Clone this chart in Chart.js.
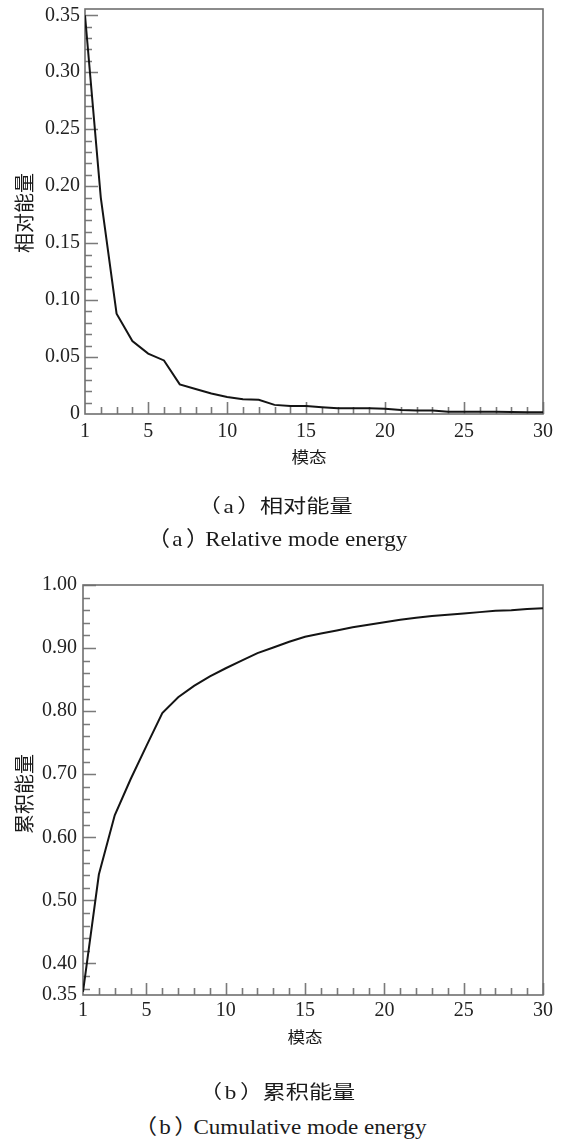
<!DOCTYPE html>
<html>
<head>
<meta charset="utf-8">
<script src="https://cdn.jsdelivr.net/npm/chart.js@4/dist/chart.umd.min.js"></script>
<style>
  html, body { margin: 0; padding: 0; background: #fff; }
  body { width: 566px; height: 1143px; position: relative; overflow: hidden; }
  .box { position: absolute; left: 0; width: 566px; }
  .t { position: absolute; white-space: nowrap; color: #1a1a1a; transform-origin: center center; line-height: 1; }
  .cjk { font-family: "Noto Sans CJK SC", "Noto Sans", sans-serif; }
  .ser { font-family: "Liberation Serif", "Noto Sans CJK SC", serif; }
  .p { font-family: "Noto Sans CJK SC", sans-serif; font-feature-settings: "halt"; }
  .l { font-family: "Liberation Serif", serif; margin: 0 3px 0 2px; }
</style>
</head>
<body>
<div class="box" style="top:0;height:450px;"><canvas id="c1" width="566" height="450"></canvas></div>
<div class="box" style="top:570px;height:470px;"><canvas id="c2" width="566" height="470"></canvas></div>

<div class="t cjk" style="left:24px;top:213px;font-size:20px;transform:translate(-50%,-50%) rotate(-90deg);">相对能量</div>
<div class="t cjk" style="left:309px;top:456px;font-size:16px;transform:translate(-50%,-50%) scaleX(1.1);">模态</div>
<div class="t cjk" style="left:281px;top:505px;font-size:19px;transform:translate(-50%,-50%) scaleX(1.22);"><span class="p">（</span><span class="l">a</span><span class="p" style="margin-right:9px;">）</span>相对能量</div>
<div class="t ser" style="left:283px;top:538px;font-size:21px;transform:translate(-50%,-50%) scaleX(1.1);"><span class="p">（</span><span class="l">a</span><span class="p" style="margin-right:7px;">）</span>Relative mode energy</div>

<div class="t cjk" style="left:24px;top:794px;font-size:20px;transform:translate(-50%,-50%) rotate(-90deg);">累积能量</div>
<div class="t cjk" style="left:305px;top:1036px;font-size:16px;transform:translate(-50%,-50%) scaleX(1.1);">模态</div>
<div class="t cjk" style="left:283px;top:1091px;font-size:19px;transform:translate(-50%,-50%) scaleX(1.22);"><span class="p">（</span><span class="l">b</span><span class="p" style="margin-right:9px;">）</span>累积能量</div>
<div class="t ser" style="left:286px;top:1126px;font-size:21px;transform:translate(-50%,-50%) scaleX(1.1);"><span class="p">（</span><span class="l">b</span><span class="p" style="margin-right:7px;">）</span>Cumulative mode energy</div>

<script>
// ---------------- DATA ----------------
const modes = [1,2,3,4,5,6,7,8,9,10,11,12,13,14,15,16,17,18,19,20,21,22,23,24,25,26,27,28,29,30];
const relativeEnergy = [0.350,0.190,0.088,0.064,0.053,0.047,0.026,0.022,0.018,0.015,0.013,0.0125,0.008,0.007,0.007,0.006,0.005,0.005,0.005,0.0045,0.0035,0.003,0.003,0.002,0.002,0.002,0.002,0.0018,0.0015,0.0015];
const cumulativeEnergy = [0.355,0.541,0.635,0.692,0.745,0.797,0.822,0.840,0.855,0.868,0.880,0.892,0.901,0.910,0.918,0.923,0.928,0.933,0.937,0.941,0.945,0.948,0.951,0.953,0.955,0.957,0.959,0.960,0.962,0.963];
const xTickValues = [1,5,10,15,20,25,30];
const yTicksRelative = [0,0.05,0.10,0.15,0.20,0.25,0.30,0.35];
const yTicksCumulative = [0.35,0.40,0.50,0.60,0.70,0.80,0.90,1.00];
const yMinorRelative = [0.01,0.02,0.03,0.04,0.06,0.07,0.08,0.09,0.11,0.12,0.13,0.14,0.16,0.17,0.18,0.19,0.21,0.22,0.23,0.24,0.26,0.27,0.28,0.29,0.31,0.32,0.33,0.34];
const yMinorCumulative = [0.36,0.38,0.42,0.44,0.46,0.48,0.52,0.54,0.56,0.58,0.62,0.64,0.66,0.68,0.72,0.74,0.76,0.78,0.82,0.84,0.86,0.88,0.92,0.94,0.96,0.98];
const xMinor = [2,3,4,6,7,8,9,11,12,13,14,16,17,18,19,21,22,23,24,26,27,28,29];

// ---------------- STYLE HELPERS ----------------
const TICK_FONT = { family: '"Liberation Serif", "Times New Roman", serif', size: 20 };
const FRAME = '#6f6f6f';
const TICKCOL = '#7a7a7a';

const framePlugin = {
  id: 'frameTicks',
  beforeDatasetsDraw(chart, args, opts) {
    const { ctx, chartArea: a, scales } = chart;
    const xs = scales.x, ys = scales.y;
    ctx.save();
    ctx.strokeStyle = TICKCOL;
    ctx.lineWidth = 1.6;
    ctx.beginPath();
    xTickValues.forEach(v => {
      if (v === 1) return;
      const px = Math.round(xs.getPixelForValue(v)) + 0.5;
      ctx.moveTo(px, a.bottom); ctx.lineTo(px, a.bottom - 12);
    });
    xMinor.forEach(v => {
      const px = Math.round(xs.getPixelForValue(v)) + 0.5;
      ctx.moveTo(px, a.bottom); ctx.lineTo(px, a.bottom - 7);
    });
    opts.yMajor.forEach(v => {
      if (v === ys.min) return;
      const py = Math.round(ys.getPixelForValue(v)) + 0.5;
      ctx.moveTo(a.left, py); ctx.lineTo(a.left + 13, py);
    });
    opts.yMinor.forEach(v => {
      const py = Math.round(ys.getPixelForValue(v)) + 0.5;
      ctx.moveTo(a.left, py); ctx.lineTo(a.left + 7, py);
    });
    ctx.stroke();
    ctx.strokeStyle = FRAME;
    ctx.lineWidth = 1.6;
    ctx.strokeRect(a.left, a.top, a.right - a.left, a.bottom - a.top);
    ctx.restore();
  }
};

function makeChart(id, values, yMin, yMax, yMajor, yMinor, pad, xPad, yPad, fmt) {
  return new Chart(document.getElementById(id), {
    type: 'line',
    data: {
      datasets: [{
        data: modes.map((m, i) => ({ x: m, y: values[i] })),
        borderColor: '#141414',
        borderWidth: 2,
        pointRadius: 0,
        tension: 0,
        fill: false
      }]
    },
    options: {
      responsive: false,
      devicePixelRatio: 1,
      animation: false,
      events: [],
      layout: { padding: { left: pad.left, top: pad.top, right: pad.right, bottom: pad.bottom } },
      plugins: {
        legend: { display: false },
        tooltip: { enabled: false },
        frameTicks: { yMajor: yMajor, yMinor: yMinor }
      },
      scales: {
        x: {
          type: 'linear',
          min: 1, max: 30,
          afterBuildTicks: s => { s.ticks = xTickValues.map(v => ({ value: v })); },
          afterFit: s => { s.height = 35; s.paddingLeft = 0; s.paddingRight = 0; },
          grid: { display: false, drawTicks: false },
          border: { display: false },
          ticks: { font: TICK_FONT, color: '#222', padding: xPad, maxRotation: 0, autoSkip: false,
                    callback: v => String(v) }
        },
        y: {
          type: 'linear',
          min: yMin, max: yMax,
          afterBuildTicks: s => { s.ticks = yMajor.map(v => ({ value: v })); },
          afterFit: s => { s.width = pad.yw; s.paddingTop = 0; s.paddingBottom = 0; },
          grid: { display: false, drawTicks: false },
          border: { display: false },
          ticks: { font: TICK_FONT, color: '#222', padding: yPad, autoSkip: false, callback: fmt }
        }
      }
    },
    plugins: [framePlugin]
  });
}

makeChart('c1', relativeEnergy, 0, 0.3555, yTicksRelative, yMinorRelative,
  { left: 0, top: 9, right: 23, bottom: 1, yw: 85 }, 6, 5,
  v => (Math.abs(v) < 1e-9 ? '0' : v.toFixed(2)));

makeChart('c2', cumulativeEnergy, 0.35, 1.0, yTicksCumulative, yMinorCumulative,
  { left: 0, top: 15, right: 23, bottom: 10, yw: 83 }, 4, 6,
  v => v.toFixed(2));
</script>
</body>
</html>
